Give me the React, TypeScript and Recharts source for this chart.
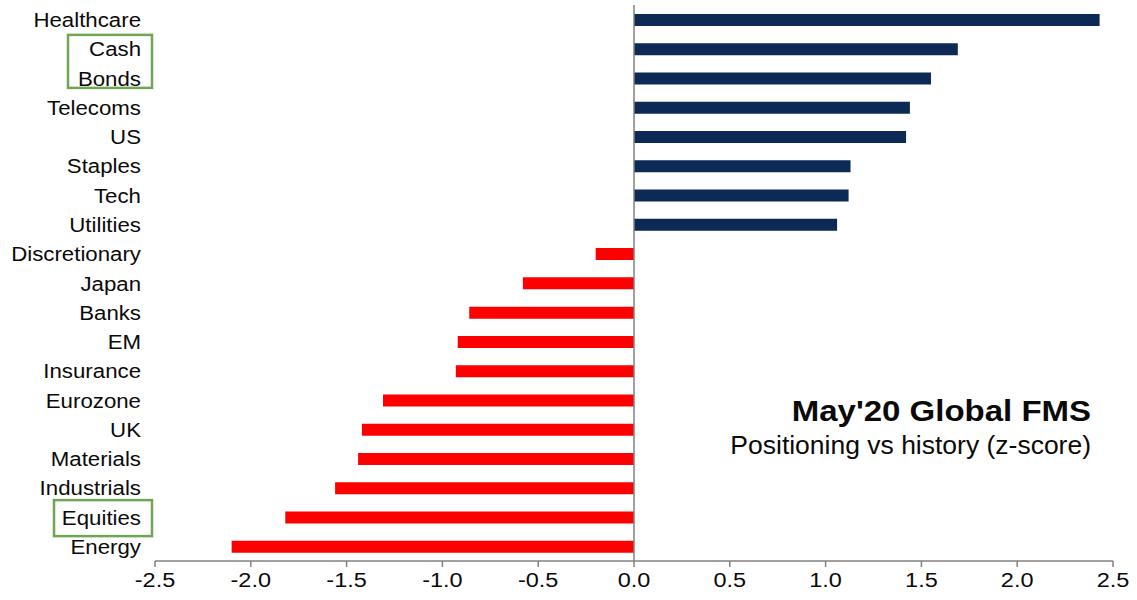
import React from 'react';
import { BarChart, Bar, XAxis, YAxis, ReferenceLine, Cell, Customized } from 'recharts';

const categories = [
  'Healthcare', 'Cash', 'Bonds', 'Telecoms', 'US', 'Staples', 'Tech', 'Utilities',
  'Discretionary', 'Japan', 'Banks', 'EM', 'Insurance', 'Eurozone', 'UK',
  'Materials', 'Industrials', 'Equities', 'Energy',
];
const zScores = [
  2.43, 1.69, 1.55, 1.44, 1.42, 1.13, 1.12, 1.06,
  -0.2, -0.58, -0.86, -0.92, -0.93, -1.31, -1.42,
  -1.44, -1.56, -1.82, -2.1,
];
const xTicks = [-2.5, -2.0, -1.5, -1.0, -0.5, 0, 0.5, 1.0, 1.5, 2.0, 2.5];
const title = "May'20 Global FMS";
const subtitle = 'Positioning vs history (z-score)';

const data = categories.map((name, i) => ({ name, value: zScores[i] }));

const FONT = '"Liberation Sans", Arial, Helvetica, sans-serif';
const NAVY = '#0c2a55';
const RED = '#ff0000';
const GREEN = '#6fa553';

const YTick = (props: any) => {
  const { x, y, payload } = props;
  const name = payload.value;
  return (
    <g>
      {name === 'Cash' && (
        <rect x={x - 73} y={y - 14} width={84} height={53} fill="none" stroke={GREEN} strokeWidth={2.5} />
      )}
      {name === 'Equities' && (
        <rect x={x - 87} y={y - 17} width={98} height={36} fill="none" stroke={GREEN} strokeWidth={2.5} />
      )}
      <text
        transform={`translate(${x},${y + 7.5}) scale(1.06,1)`}
        textAnchor="end"
        fontSize={21}
        fontFamily={FONT}
        fill="#0a0a0a"
      >
        {name}
      </text>
    </g>
  );
};

const XTick = (props: any) => {
  const { x, y, payload } = props;
  return (
    <text
      transform={`translate(${x},${y + 18}) scale(1.12,1)`}
      textAnchor="middle"
      fontSize={21}
      fontFamily={FONT}
      fill="#0a0a0a"
    >
      {Number(payload.value).toFixed(1)}
    </text>
  );
};

const Titles = () => (
  <g>
    <text
      transform="translate(1091,421) scale(1.1,1)"
      textAnchor="end"
      fontSize={30}
      fontWeight="bold"
      fontFamily={FONT}
      fill="#0a0a0a"
    >
      {title}
    </text>
    <text
      transform="translate(1091,454) scale(1.06,1)"
      textAnchor="end"
      fontSize={25}
      fontFamily={FONT}
      fill="#0a0a0a"
    >
      {subtitle}
    </text>
  </g>
);

export default function App() {
  return (
    <div style={{ position: 'absolute', left: 0, top: 0, width: 1137, height: 600, background: '#fff' }}>
      <BarChart
        width={1137}
        height={600}
        data={data}
        layout="vertical"
        margin={{ top: 5, right: 24, bottom: 0, left: 0 }}
        barCategoryGap={0}
      >
        <XAxis
          type="number"
          domain={[-2.5, 2.5]}
          ticks={xTicks}
          interval={0}
          height={39}
          axisLine={{ stroke: '#808080', strokeWidth: 1.5 }}
          tickLine={{ stroke: '#808080', strokeWidth: 1.5 }}
          tickSize={6}
          tick={<XTick />}
          allowDataOverflow
        />
        <YAxis
          type="category"
          dataKey="name"
          width={155}
          axisLine={false}
          tickLine={false}
          tickSize={0}
          tickMargin={14}
          interval={0}
          tick={<YTick />}
        />
        <Bar dataKey="value" barSize={12} isAnimationActive={false}>
          {data.map((d) => (
            <Cell key={d.name} fill={d.value >= 0 ? NAVY : RED} />
          ))}
        </Bar>
        <ReferenceLine x={0} stroke="#808080" strokeWidth={1.5} ifOverflow="extendDomain" />
        <Customized component={Titles} />
      </BarChart>
    </div>
  );
}
